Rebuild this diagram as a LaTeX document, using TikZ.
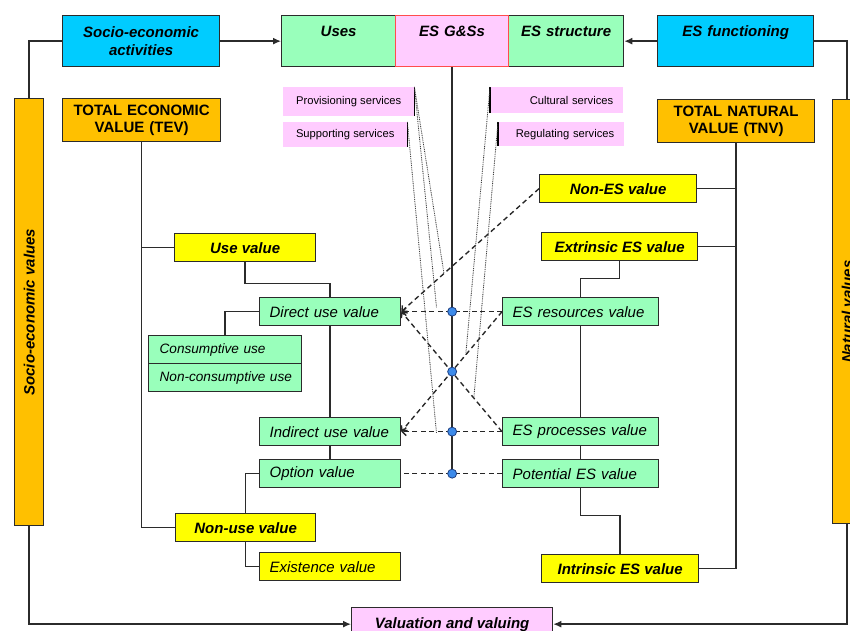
\documentclass[tikz,border=0pt]{standalone}
\usepackage{fontspec}
\setmainfont{Liberation Sans}
\usetikzlibrary{arrows.meta,calc}

\definecolor{cyanbox}{HTML}{00CCFF}
\definecolor{mintbox}{HTML}{99FFBB}
\definecolor{pinkbox}{HTML}{FFCCFF}
\definecolor{yellowbox}{HTML}{FFFF00}
\definecolor{orangebox}{HTML}{FFC000}
\definecolor{edgegray}{HTML}{2B2B2B}
\definecolor{redge}{HTML}{FF4D4D}
\definecolor{dotblue}{HTML}{3D8BEA}
\definecolor{dotedge}{HTML}{1F3F80}

\begin{document}
\begin{tikzpicture}[x=1pt,y=-1pt,
  font=\fontsize{15}{18}\selectfont,
  box/.style={draw=edgegray, line width=1.3pt, inner sep=0pt, anchor=north west},
  bi/.style={font=\fontsize{15}{18}\selectfont\bfseries\itshape},
  it/.style={font=\fontsize{15}{18}\selectfont\itshape},
  itsmall/.style={font=\fontsize{13.6}{16}\selectfont\itshape},
  svc/.style={fill=pinkbox, inner sep=0pt, anchor=north west, font=\fontsize{11.2}{13}\selectfont},
  conn/.style={draw=edgegray, line width=1.35pt},
  tip/.style={-{Latex[length=8pt,width=7pt]}},
  dashln/.style={draw=black!85, line width=1.35pt, dash pattern=on 5pt off 3.5pt},
  barb/.style={-{Straight Barb[length=4pt,width=8pt]}},
  dotln/.style={draw=black!75, line width=0.85pt, dash pattern=on 0.9pt off 0.9pt},
  hub/.style={circle, fill=dotblue, draw=dotedge, line width=0.8pt, minimum size=9pt, inner sep=0pt}]

\useasboundingbox (0,0) rectangle (850,630);

% top row
\node[box, fill=cyanbox, minimum width=157pt, minimum height=51pt, text width=150pt, align=center, bi] (sea) at (62,15) {Socio-economic\\activities};
\node[box, fill=mintbox, minimum width=114pt, minimum height=51pt, text width=110pt, align=center, font=\fontsize{15}{20}\selectfont\bfseries\itshape] (uses) at (281,15) {Uses\\\mbox{}};
\node[box, fill=mintbox, minimum width=115pt, minimum height=51pt, text width=112pt, align=center, font=\fontsize{15}{20}\selectfont\bfseries\itshape] (esstr) at (508,15) {ES structure\\\mbox{}};
\node[box, draw=redge, fill=pinkbox, minimum width=113pt, minimum height=51pt, text width=110pt, align=center, font=\fontsize{15}{20}\selectfont\bfseries\itshape] (gss) at (395,15) {ES G\&Ss\\\mbox{}};
\node[box, fill=cyanbox, minimum width=156pt, minimum height=51pt, text width=150pt, align=center, font=\fontsize{15}{20}\selectfont\bfseries\itshape] (esf) at (657,15) {ES functioning\\\mbox{}};

% totals
\node[box, fill=orangebox, minimum width=158pt, minimum height=43pt, text width=150pt, align=center, font=\fontsize{15}{17.5}\selectfont\bfseries] (tev) at (62,98) {TOTAL ECONOMIC\\VALUE (TEV)};
\node[box, fill=orangebox, minimum width=157pt, minimum height=43pt, text width=150pt, align=center, font=\fontsize{15}{17.5}\selectfont\bfseries] (tnv) at (657,99) {TOTAL NATURAL\\VALUE (TNV)};

% side bars
\node[box, fill=orangebox, minimum width=29pt, minimum height=427pt, bi] (sev) at (14,98) {\rotatebox{90}{Socio-economic values}};
\node[box, fill=orangebox, minimum width=29pt, minimum height=424pt, bi] (nv) at (832,99) {\rotatebox{90}{Natural values}};

% service labels
\node[svc, minimum width=131pt, minimum height=29pt] (prov) at (283,87) {Provisioning services};
\node[svc, minimum width=124pt, minimum height=25pt] (supp) at (283,122) {Supporting services};
\node[svc, minimum width=133pt, minimum height=26pt, text width=113pt, align=right] (cult) at (490,87) {Cultural services};
\node[svc, minimum width=126pt, minimum height=24pt, text width=106pt, align=right] (reg) at (498,122) {Regulating services};

% economic side
\node[box, fill=yellowbox, minimum width=141pt, minimum height=28pt, bi] (usev) at (174,233) {Use value};
\node[box, fill=mintbox, minimum width=141pt, minimum height=28pt, text width=121pt, align=left, it] (direct) at (259,297) {Direct use value};
\node[box, fill=mintbox, minimum width=153pt, minimum height=28pt, text width=131pt, align=left, itsmall] (cons) at (148,335) {Consumptive use};
\node[box, fill=mintbox, minimum width=153pt, minimum height=28pt, text width=131pt, align=left, itsmall] (noncons) at (148,363) {\mbox{Non-consumptive use}};
\node[box, fill=mintbox, minimum width=141pt, minimum height=28pt, text width=121pt, align=left, it] (indirect) at (259,417) {Indirect use value};
\node[box, fill=mintbox, minimum width=141pt, minimum height=28pt, text width=121pt, align=left, it] (option) at (259,459) {Option value};
\node[box, fill=yellowbox, minimum width=140pt, minimum height=28pt, bi] (nonuse) at (175,513) {Non-use value};
\node[box, fill=yellowbox, minimum width=141pt, minimum height=28pt, text width=121pt, align=left, it] (exist) at (259,552) {Existence value};

% natural side
\node[box, fill=yellowbox, minimum width=157pt, minimum height=28pt, bi] (nones) at (539,174) {Non-ES value};
\node[box, fill=yellowbox, minimum width=156pt, minimum height=28pt, bi] (extr) at (541,232) {Extrinsic ES value};
\node[box, fill=mintbox, minimum width=156pt, minimum height=28pt, text width=136pt, align=left, it] (esres) at (502,297) {ES resources value};
\node[box, fill=mintbox, minimum width=156pt, minimum height=28pt, text width=136pt, align=left, it] (esproc) at (502,417) {ES processes value};
\node[box, fill=mintbox, minimum width=156pt, minimum height=28pt, text width=136pt, align=left, it] (pot) at (502,459) {Potential ES value};
\node[box, fill=yellowbox, minimum width=157pt, minimum height=28pt, bi] (intr) at (541,554) {Intrinsic ES value};

% valuation
\node[box, fill=pinkbox, minimum width=201pt, minimum height=33pt, bi] (val) at (351,607) {Valuation and valuing};

% outer loop
\draw[conn, tip] (sea.east) -- (uses.west);
\draw[conn, tip] (esf.west) -- (esstr.east);
\draw[conn] (sea.west) -| (sev.north);
\draw[conn] (esf.east) -| (nv.north);
\draw[conn, tip] (sev.south) |- (val.west);
\draw[conn, tip] (nv.south) |- (val.east);

% economic tree
\draw[conn] (tev.south) |- (usev.west);
\draw[conn] (tev.south) |- (nonuse.west);
\draw[conn] (usev.south) -- ++(0,21) -| (direct.north);
\draw[conn] (direct.west) -| (cons.north);
\draw[conn] (direct.south) -- (indirect.north);
\draw[conn] (indirect.south) -- (option.north);
\draw[conn] (option.west) -| (nonuse.north);
\draw[conn] (nonuse.south) |- (exist.west);

% natural tree
\draw[conn] (tnv.south) |- (nones.east);
\draw[conn] (tnv.south) |- (extr.east);
\draw[conn] (tnv.south) |- (intr.east);
\draw[conn] (extr.south) -- ++(0,17) -| (esres.north);
\draw[conn] (esres.south) -- (esproc.north);
\draw[conn] (esproc.south) -- (pot.north);
\draw[conn] (pot.south) -- ++(0,27) -| (intr.north);

% central axis and its crossing points
\coordinate (c1) at (gss.south |- direct.east);
\coordinate (c2) at ($(gss.south |- direct.east)!0.5!(gss.south |- indirect.east)$);
\coordinate (c3) at (gss.south |- indirect.east);
\coordinate (c4) at (gss.south |- option.east);
\draw[conn] (gss.south) -- (c4);

% correspondences between the two value sets
\draw[dashln, barb] (esres.west) -- (direct.east);
\draw[dashln, barb] (esproc.west) -- (indirect.east);
\draw[dashln] (pot.west) -- (option.east);
\draw[dashln, barb] (esres.west) -- (indirect.east);
\draw[dashln, barb] (esproc.west) -- (direct.east);
\draw[dashln, barb] (nones.west) -- (direct.east);

% service links
\coordinate (q1) at ($(nones.west)!0.69!(direct.east)$);
\coordinate (q2) at ($(direct.east)!0.35!(esres.west)+(0,-4)$);
\coordinate (q3) at ($(indirect.east)!0.35!(esproc.west)+(0,2)$);
\coordinate (q4) at ($(esres.west)!0.36!(indirect.east)$);
\coordinate (q5) at ($(esproc.west)!0.28!(direct.east)$);
\draw[black, line width=1.1pt] (prov.north east) -- (prov.south east);
\draw[black, line width=1.1pt] (supp.north east) -- (supp.south east);
\draw[black, line width=1.1pt] (cult.north west) -- (cult.south west);
\draw[black, line width=1.1pt] (reg.north west) -- (reg.south west);
\draw[dotln] (prov.north east) -- (q1);
\draw[dotln] (prov.north east) -- (q2);
\draw[dotln] (supp.north east) -- (q3);
\draw[dotln] (cult.north west) -- (q4);
\draw[dotln] (reg.north west) -- (q5);

\node[hub] (h1) at (c1) {};
\node[hub] (h2) at (c2) {};
\node[hub] (h3) at (c3) {};
\node[hub] (h4) at (c4) {};
\end{tikzpicture}
\end{document}
